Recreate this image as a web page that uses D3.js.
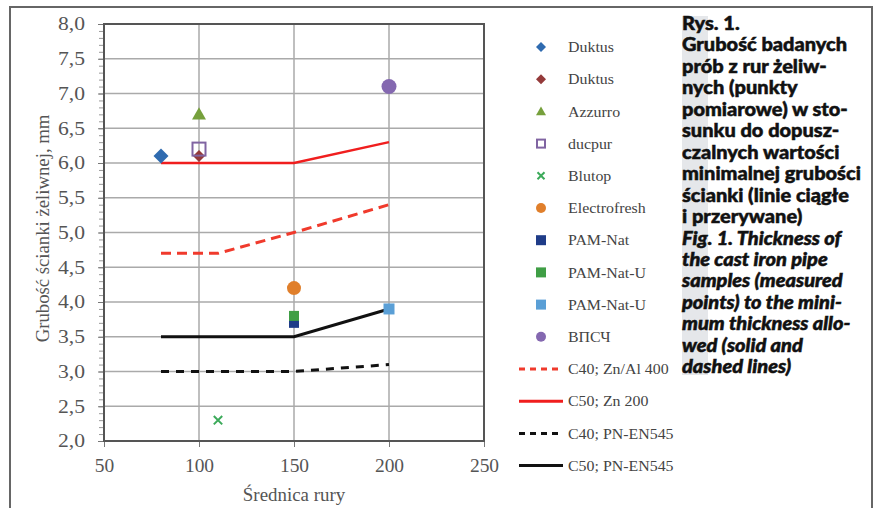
<!DOCTYPE html>
<html>
<head>
<meta charset="utf-8">
<script src="https://cdn.jsdelivr.net/npm/d3@7"></script>
<style>
  body { margin: 0; background: #fff; }
  svg { display: block; }
</style>
</head>
<body>
<div id="chart"></div>
<script>
// measured points: [diameter, thickness]
const pointSeries = ["Duktus", "Duktus", "Azzurro", "ducpur", "Blutop", "Electrofresh",
                     "PAM-Nat", "PAM-Nat-U", "PAM-Nat-U", "ВПСЧ"];
const pointX = [80, 100, 100, 100, 110, 150, 150, 150, 200, 200];
const pointY = [6.1, 6.1, 6.7, 6.2, 2.3, 4.2, 3.7, 3.8, 3.9, 7.1];
const pointShape = ["diamond", "diamond", "triangle", "open", "cross", "circle",
                    "square", "square", "square", "circle"];
const pointColor = ["#2f6bb0", "#943a3a", "#76a03c", "#8064a2", "#3caa5a", "#e07f2b",
                    "#1f3c88", "#3f9e45", "#5a9fd6", "#8468b0"];

// minimum thickness lines
const lineNames = ["C40; Zn/Al 400", "C50; Zn 200", "C40; PN-EN545", "C50; PN-EN545"];
const lineX = [[80, 110, 150, 200], [80, 150, 200], [80, 150, 200], [80, 150, 200]];
const lineY = [[4.7, 4.7, 5.0, 5.4], [6.0, 6.0, 6.3], [3.0, 3.0, 3.1], [3.5, 3.5, 3.9]];
const lineColor = ["#f03a2c", "#f01e1e", "#111", "#111"];
const lineDash = ["10,6", null, "8,7", null];

const xTicks = [50, 100, 150, 200, 250];
const yTicks = [2, 2.5, 3, 3.5, 4, 4.5, 5, 5.5, 6, 6.5, 7, 7.5, 8];

const caption = [
  ["Rys. 1.", "normal"],
  ["Grubość badanych", "normal"],
  ["prób z rur żeliw-", "normal"],
  ["nych (punkty", "normal"],
  ["pomiarowe) w sto-", "normal"],
  ["sunku do dopusz-", "normal"],
  ["czalnych wartości", "normal"],
  ["minimalnej grubości", "normal"],
  ["ścianki (linie ciągłe", "normal"],
  ["i przerywane)", "normal"],
  ["Fig. 1. Thickness of", "italic"],
  ["the cast iron pipe", "italic"],
  ["samples (measured", "italic"],
  ["points) to the mini-", "italic"],
  ["mum thickness allo-", "italic"],
  ["wed (solid and", "italic"],
  ["dashed lines)", "italic"]
];

const width = 877, height = 508,
    margin = ({ top: 24, right: 390, bottom: 67, left: 104 });

const svg = d3.select("#chart")
    .append("svg")
    .attr("width", width)
    .attr("height", height)
    .style("font-family", "'Liberation Serif', 'Times New Roman', serif");

// widen text by a factor (the source font is broader than Times)
function stretch(sel, k) {
    sel.each(function() {
        const w = this.getComputedTextLength();
        d3.select(this).attr("textLength", w * k).attr("lengthAdjust", "spacingAndGlyphs");
    });
}

// outer frame
svg.append("path")
    .attr("d", `M10,${height} V7 H872 V${height}`)
    .attr("fill", "none")
    .attr("stroke", "#666")
    .attr("stroke-width", 2);

let x = d3.scaleLinear()
    .domain([50, 250])
    .range([margin.left, width - margin.right - 3]);

let y = d3.scaleLinear()
    .domain([2, 8])
    .range([height - margin.bottom, margin.top]);

// grid
svg.append("g")
    .selectAll("line")
    .data(yTicks)
    .join("line")
    .attr("x1", x(50)).attr("x2", x(250))
    .attr("y1", d => y(d)).attr("y2", d => y(d))
    .attr("stroke", "#aaa")
    .attr("stroke-width", 1.5);

svg.append("g")
    .selectAll("line")
    .data(xTicks)
    .join("line")
    .attr("x1", d => x(d)).attr("x2", d => x(d))
    .attr("y1", y(2)).attr("y2", y(8))
    .attr("stroke", "#aaa")
    .attr("stroke-width", 1.5);

// minor ticks on y
svg.append("g")
    .attr("transform", `translate(${x(50)},0)`)
    .call(d3.axisLeft(y).tickValues(d3.range(20, 81).map(d => d / 10)).tickSize(5).tickFormat(""))
    .call(g => g.select(".domain").remove())
    .call(g => g.selectAll("line").attr("stroke", "#999"));

const fmt = d => d.toFixed(1).replace(".", ",");

svg.append("g")
    .attr("class", "y-axis")
    .attr("transform", `translate(${x(50)},0)`)
    .call(d3.axisLeft(y).tickValues(yTicks).tickFormat(fmt).tickSize(6).tickPadding(13))
    .call(g => g.select(".domain").remove())
    .call(g => g.selectAll("line").attr("stroke", "#777"))
    .call(g => g.selectAll("text").attr("fill", "#555").attr("font-size", 18)
        .attr("font-family", "'Liberation Serif', serif").call(stretch, 1.2));

svg.append("g")
    .attr("class", "x-axis")
    .attr("transform", `translate(0,${y(2)})`)
    .call(d3.axisBottom(x).tickValues(xTicks).tickFormat(d3.format("d")).tickSize(6).tickPadding(12))
    .call(g => g.select(".domain").remove())
    .call(g => g.selectAll("line").attr("stroke", "#777"))
    .call(g => g.selectAll("text").attr("fill", "#555").attr("font-size", 18)
        .attr("font-family", "'Liberation Serif', serif").call(stretch, 1.08));

// plot frame
svg.append("rect")
    .attr("x", x(50)).attr("y", y(8))
    .attr("width", x(250) - x(50)).attr("height", y(2) - y(8))
    .attr("fill", "none")
    .attr("stroke", "#555")
    .attr("stroke-width", 2);

// axis titles
svg.append("text")
    .attr("x", (x(50) + x(250)) / 2)
    .attr("y", 501)
    .attr("text-anchor", "middle")
    .attr("font-size", 18)
    .attr("fill", "#555")
    .text("Średnica rury")
    .call(stretch, 1.05);

svg.append("text")
    .attr("transform", `translate(49,${(y(2) + y(8)) / 2 - 4}) rotate(-90)`)
    .attr("text-anchor", "middle")
    .attr("font-size", 18)
    .attr("fill", "#555")
    .text("Grubość ścianki żeliwnej, mm")
    .call(stretch, 1.04);

// lines
const line = d3.line().x(d => x(d[0])).y(d => y(d[1]));

lineNames.forEach((name, i) => {
    svg.append("path")
        .datum(d3.zip(lineX[i], lineY[i]))
        .attr("d", line)
        .attr("fill", "none")
        .attr("stroke", lineColor[i])
        .attr("stroke-width", i === 1 ? 2.5 : 3)
        .attr("stroke-dasharray", lineDash[i]);
});

// marker drawing
function marker(g, shape, color, s) {
    if (shape === "diamond") {
        g.append("path").attr("d", `M0,${-s} L${s},0 L0,${s} L${-s},0Z`).attr("fill", color);
    } else if (shape === "triangle") {
        g.append("path").attr("d", `M0,${-s} L${s},${s * 0.75} L${-s},${s * 0.75}Z`).attr("fill", color);
    } else if (shape === "open") {
        g.append("rect").attr("x", -s + 1).attr("y", -s + 1).attr("width", 2 * s - 2).attr("height", 2 * s - 2)
            .attr("fill", "none").attr("stroke", color).attr("stroke-width", 2);
    } else if (shape === "cross") {
        const c = s * 0.7;
        g.append("path").attr("d", `M${-c},${-c} L${c},${c} M${-c},${c} L${c},${-c}`)
            .attr("stroke", color).attr("stroke-width", 2);
    } else if (shape === "circle") {
        g.append("circle").attr("r", s).attr("fill", color);
    } else {
        g.append("rect").attr("x", -s).attr("y", -s).attr("width", 2 * s).attr("height", 2 * s).attr("fill", color);
    }
}

const ptSize = [7.5, 6, 7, 7.5, 6, 7, 5, 5, 5.5, 7.5];

svg.append("g")
    .selectAll("g")
    .data(d3.range(pointX.length))
    .join("g")
    .attr("transform", i => `translate(${x(pointX[i])},${y(pointY[i])})`)
    .each(function(i) { marker(d3.select(this), pointShape[i], pointColor[i], ptSize[i]); });

// legend
const legendY = i => 47 + i * 32.2;
const legend = svg.append("g").attr("font-size", 15).attr("fill", "#444");

pointSeries.forEach((name, i) => {
    const g = legend.append("g").attr("transform", `translate(541,${legendY(i)})`);
    marker(g, pointShape[i], pointColor[i], pointShape[i] === "open" ? 5 : 5);
    legend.append("text").attr("x", 568).attr("y", legendY(i)).attr("dy", "0.35em").text(name);
});

lineNames.forEach((name, i) => {
    const ly = legendY(pointSeries.length + i);
    legend.append("line")
        .attr("x1", 519).attr("x2", 563).attr("y1", ly).attr("y2", ly)
        .attr("stroke", lineColor[i])
        .attr("stroke-width", 3)
        .attr("stroke-dasharray", lineDash[i] ? "6,5" : null);
    legend.append("text").attr("x", 568).attr("y", ly).attr("dy", "0.35em").text(name);
});
legend.selectAll("text").call(stretch, 1.06);

// caption
svg.append("rect")
    .attr("x", 682).attr("y", 16)
    .attr("width", 26).attr("height", 359)
    .attr("fill", "#e5e7ea");

const cap = svg.append("g")
    .selectAll("text")
    .data(caption)
    .join("text")
    .attr("x", 682)
    .attr("y", (d, i) => 30 + i * 21.45)
    .attr("font-family", "Lato, sans-serif")
    .attr("font-weight", 900)
    .attr("font-size", 18)
    .attr("font-style", d => d[1])
    .attr("fill", "#111")
    .attr("stroke", "#111")
    .attr("stroke-width", 0.5)
    .text(d => d[0]);

// scale all caption lines by the same factor so "Grubość badanych" is 165px wide
const capK = 165 / cap.filter((d, i) => i === 1).node().getComputedTextLength();
cap.call(stretch, capK);
</script>
</body>
</html>
